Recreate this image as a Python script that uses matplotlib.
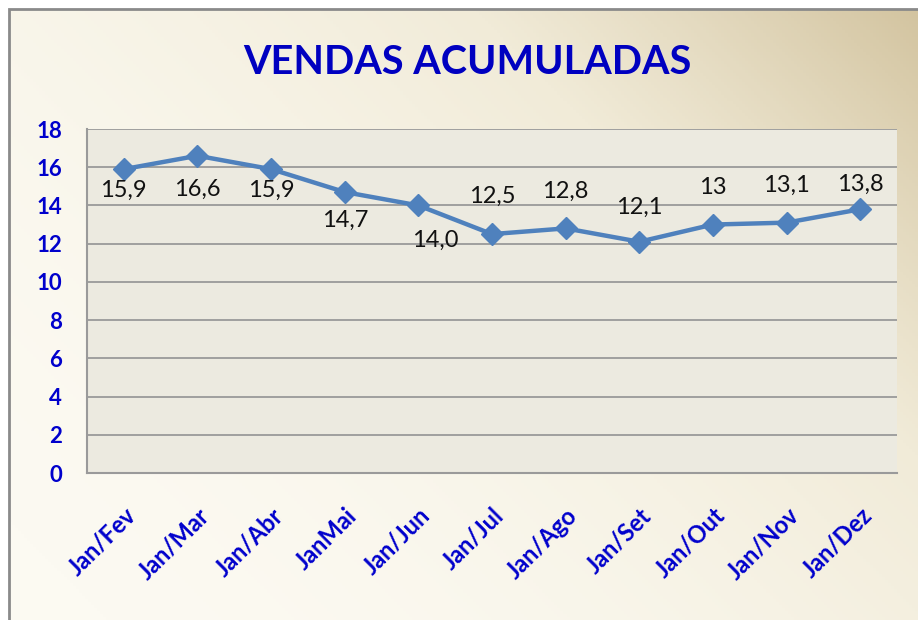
import numpy as np
import matplotlib
matplotlib.use("Agg")
import matplotlib.pyplot as plt
from matplotlib.patches import Rectangle
from matplotlib.colors import LinearSegmentedColormap

# dados
meses = ['Jan/Fev', 'Jan/Mar', 'Jan/Abr', 'JanMai', 'Jan/Jun', 'Jan/Jul',
         'Jan/Ago', 'Jan/Set', 'Jan/Out', 'Jan/Nov', 'Jan/Dez']
vendas = [15.9, 16.6, 15.9, 14.7, 14.0, 12.5, 12.8, 12.1, 13, 13.1, 13.8]
rotulos = ['15,9', '16,6', '15,9', '14,7', '14,0', '12,5', '12,8', '12,1', '13', '13,1', '13,8']
yticks = [0, 2, 4, 6, 8, 10, 12, 14, 16, 18]

# deslocamento dos rotulos (pontos)
desloc = [(0, -15), (0, -24), (0, -15), (0, -20), (12, -25), (0, 27),
          (0, 27), (0, 25), (0, 27), (0, 27), (0, 18)]

azul = '#0000CC'
fonte = ['Lato', 'DejaVu Sans']

fig = plt.figure(figsize=(9.18, 6.2), dpi=100)
fig.patch.set_facecolor('white')

# fundo com gradiente
bg = fig.add_axes([9 / 918, 0, 1 - 9 / 918, 1 - 9 / 620], zorder=-10)
gx, gy = np.meshgrid(np.linspace(0, 1, 300), np.linspace(0, 1, 200))
t = np.clip((1.2 * gx + 0.8 * gy) / 2, 0, 1) ** 2
cmap = LinearSegmentedColormap.from_list('fundo', ['#FCFAF2', '#F1EBD8', '#D3C4A0'])
bg.imshow(t, cmap=cmap, origin='lower', aspect='auto', extent=[0, 1, 0, 1])
bg.set_axis_off()
fig.patches.append(Rectangle((9 / 918, -0.01), 1.02, 1 - 9 / 620 + 0.01, transform=fig.transFigure,
                             fill=False, edgecolor='#8A8A8A', linewidth=2, zorder=5))

ax = fig.add_axes([87 / 918, 1 - 473 / 620, 810 / 918, 344 / 620])
ax.set_facecolor('#ECEAE0')
x = np.arange(len(meses))
ax.plot(x, vendas, color='#4F81BD', linewidth=3.2, marker='D', markersize=11, zorder=3)

for i, (v, r) in enumerate(zip(vendas, rotulos)):
    ax.annotate(r, (i, v), xytext=desloc[i], textcoords='offset points',
                ha='center', va='center', fontsize=17, color='#111111', family=fonte)

ax.set_xlim(-0.5, len(meses) - 0.5)
ax.set_ylim(0, 18)
ax.set_yticks(yticks)
ax.yaxis.grid(True, color='#9A9A9A', linewidth=1.3)
ax.set_axisbelow(True)
ax.tick_params(length=0)
ax.tick_params(axis='y', pad=18)
ax.tick_params(axis='x', pad=22)
ax.set_xticks(x)
ax.set_xticklabels(meses, rotation=45, ha='right', va='top', rotation_mode='anchor')
for lb in ax.get_yticklabels():
    lb.set_fontsize(16)
for lb in ax.get_xticklabels():
    lb.set_fontsize(17)
for lb in ax.get_xticklabels() + ax.get_yticklabels():
    lb.set_color(azul)
    lb.set_fontweight('bold')
    lb.set_family(fonte)
for s in ['top', 'right']:
    ax.spines[s].set_visible(False)
for s in ['left', 'bottom']:
    ax.spines[s].set_color('#9A9A9A')
    ax.spines[s].set_linewidth(1.5)

fig.text(467 / 918, 1 - 63 / 620, 'VENDAS ACUMULADAS', ha='center', va='center',
         fontsize=28.5, fontweight='bold', color='#0000C0', family=fonte)

fig.savefig('out.png', dpi=100)
